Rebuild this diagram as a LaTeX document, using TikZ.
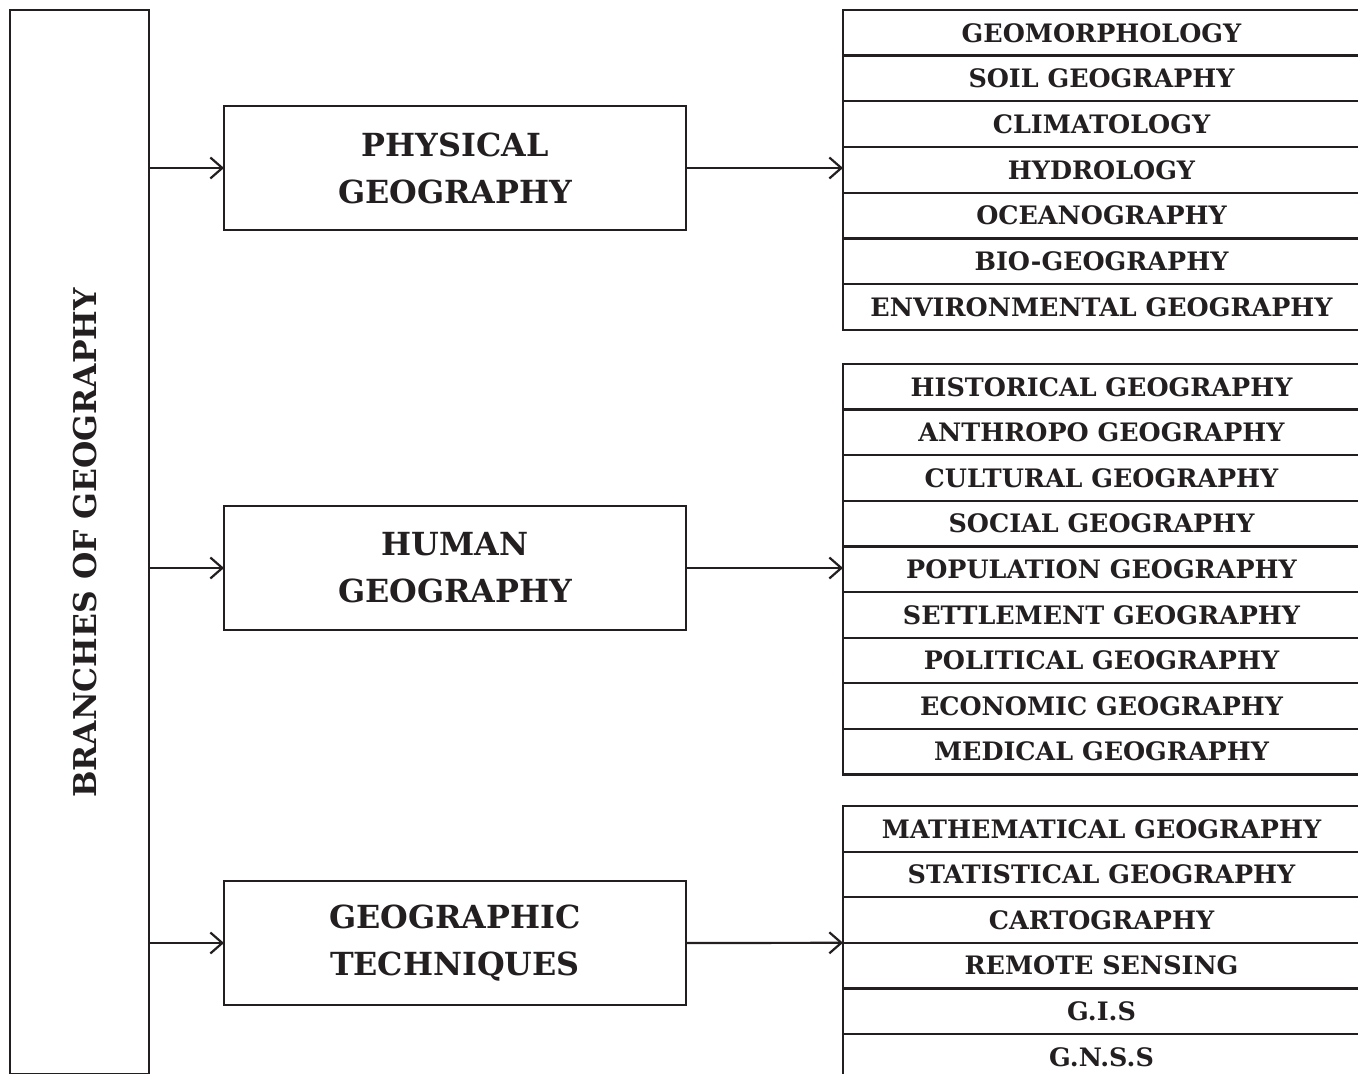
\documentclass[tikz,border=0pt]{standalone}
\usepackage{fontspec}
\setmainfont{DejaVu Serif}
\usetikzlibrary{arrows.meta}
\definecolor{ink}{HTML}{231F20}

\begin{document}
\begin{tikzpicture}[x=0.5pt,y=-0.5pt,
    box/.style={draw=ink,line width=1.1pt,outer sep=0pt,inner sep=0pt,text=ink},
    item/.style={box,anchor=north west,minimum width=258.5pt,minimum height=22.8pt,
      font=\bfseries\fontsize{12.7}{15}\selectfont},
    branch/.style={box,minimum width=231pt,minimum height=62pt,align=center,
      font=\bfseries\fontsize{15.9}{23.5}\selectfont},
    arr/.style={draw=ink,line width=1.1pt,-{Straight Barb[length=6pt,width=10.5pt]}}]
      \useasboundingbox (0,0) rectangle (1358,1074);
      \clip (0,0) rectangle (1358,1074);

      % left column
      \node[box,minimum width=69.5pt,minimum height=532pt] (branches) at (79.5,542) {};
      \node[rotate=90,text=ink,font=\bfseries\fontsize{15.7}{20}\selectfont] (title) at (85,543) {BRANCHES OF GEOGRAPHY};

      % middle boxes
      \node[branch] (phys) at (455,168) {PHYSICAL\\GEOGRAPHY};
      \node[branch] (human) at (455,568) {HUMAN\\GEOGRAPHY};
      \node[branch] (tech) at (455,943) {GEOGRAPHIC\\TECHNIQUES};

      % physical geography
      \node[item] (geomor) at (843,10) {GEOMORPHOLOGY};
      \node[item] (soil) at (843,55.7) {SOIL GEOGRAPHY};
      \node[item] (clim) at (843,101.4) {CLIMATOLOGY};
      \node[item] (hydro) at (843,147.1) {HYDROLOGY};
      \node[item] (ocean) at (843,192.8) {OCEANOGRAPHY};
      \node[item] (bio) at (843,238.5) {BIO-GEOGRAPHY};
      \node[item] (envir) at (843,284.2) {ENVIRONMENTAL GEOGRAPHY};

      % human geography
      \node[item] (hist) at (843,364) {HISTORICAL GEOGRAPHY};
      \node[item] (anthro) at (843,409.6) {ANTHROPO GEOGRAPHY};
      \node[item] (cult) at (843,455.2) {CULTURAL GEOGRAPHY};
      \node[item] (social) at (843,500.8) {SOCIAL GEOGRAPHY};
      \node[item] (popul) at (843,546.4) {POPULATION GEOGRAPHY};
      \node[item] (settle) at (843,592) {SETTLEMENT GEOGRAPHY};
      \node[item] (polit) at (843,637.6) {POLITICAL GEOGRAPHY};
      \node[item] (econ) at (843,683.2) {ECONOMIC GEOGRAPHY};
      \node[item] (medic) at (843,728.8) {MEDICAL GEOGRAPHY};

      % geographic techniques
      \node[item] (math) at (843,806) {MATHEMATICAL GEOGRAPHY};
      \node[item] (stat) at (843,851.6) {STATISTICAL GEOGRAPHY};
      \node[item] (carto) at (843,897.2) {CARTOGRAPHY};
      \node[item] (remote) at (843,942.8) {REMOTE SENSING};
      \node[item] (gis) at (843,988.4) {G.I.S};
      \node[item] (gnss) at (843,1034) {G.N.S.S};

      \draw[arr] (phys.west -| branches.east) -- (phys.west);
      \draw[arr] (human.west -| branches.east) -- (human.west);
      \draw[arr] (tech.west -| branches.east) -- (tech.west);

      \draw[arr] (phys.east) -- (phys.east -| hydro.west);
      \draw[arr] (human.east) -- (human.east -| popul.west);
      \draw[arr] (tech.east) -- (carto.south west);
    \end{tikzpicture}
\end{document}
